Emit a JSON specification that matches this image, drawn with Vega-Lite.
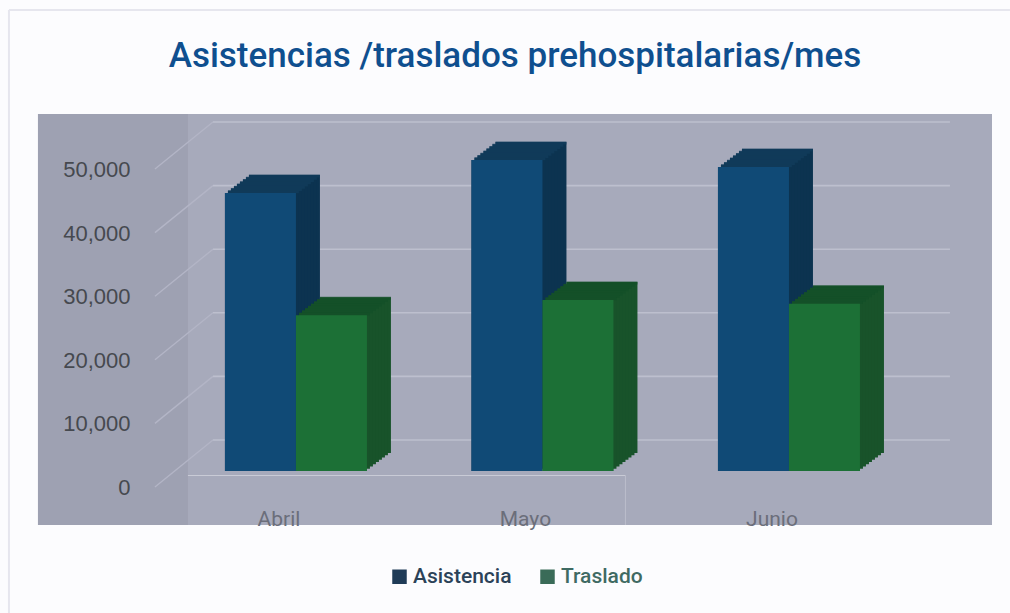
{
"$schema":"https://vega.github.io/schema/vega-lite/v6.json",
"autosize":"none","padding":{"left":38,"top":114,"right":18,"bottom":88},
"width":954,"height":411,"background":"#fcfcfe",
"view":{"fill":"#a7aabb","stroke":null},
"title":{"text":"Asistencias /traslados prehospitalarias/mes","font":"Roboto","fontSize":35,"fontWeight":500,"color":"#0f4f8f","anchor":"middle","frame":"group","offset":-65},
"datasets":{
"bars":[
{"month":"Abril","serie":"Asistencia","value":43700},
{"month":"Abril","serie":"Traslado","value":24500},
{"month":"Mayo","serie":"Asistencia","value":48900},
{"month":"Mayo","serie":"Traslado","value":26900},
{"month":"Junio","serie":"Asistencia","value":47800},
{"month":"Junio","serie":"Traslado","value":26300}
],
"grid":[{"v":0},{"v":10000},{"v":20000},{"v":30000},{"v":40000},{"v":50000}],
"panel":[{"from":"Abril","mid":"Mayo","to":"Junio","low":-8491,"high":56132,"floor":-708}]
},
"data":{"name":"bars"},
"encoding":{
"x":{"field":"month","type":"nominal","sort":["Abril","Mayo","Junio"],
"scale":{"type":"band","domain":["Abril","Mayo","Junio"],"paddingInner":0,"paddingOuter":0.435,"align":0.628},
"axis":{"title":null,"domain":false,"ticks":false,"labelAngle":0,"labelFont":"Roboto","labelFontSize":21,"labelColor":"#6b6e7a","labelPadding":-17,"labelOffset":-17,"zindex":1}},
"y":{"field":"value","type":"quantitative","stack":null,
"scale":{"domain":[-8491,56132],"nice":false,"zero":false},
"axis":{"title":null,"values":[0,10000,20000,30000,40000,50000],"format":",.0f","domain":false,"ticks":false,"grid":false,"labelFont":"Liberation Sans","labelFontSize":22,"labelColor":"#46494f","labelOffset":16.5,"offset":-92,"labelPadding":0,"zindex":1}}
},
"layer":[
{"mark":{"type":"rect","color":"#9ea1b2","xOffset":-258,"x2Offset":-108},"data":{"name":"panel"},"encoding":{"x":{"field":"from","type":"nominal"},"x2":{"field":"from"},"y":{"field":"low","type":"quantitative"},"y2":{"field":"high"}}},
{"mark":{"type":"rule","color":"#e6e6ee","strokeWidth":2,"xOffset":-287,"yOffset":88,"y2Offset":-104},"data":{"name":"panel"},"encoding":{"x":{"field":"from","type":"nominal"},"y":{"field":"low","type":"quantitative"},"y2":{"field":"high"}}},
{"mark":{"type":"rule","color":"#e6e6ee","strokeWidth":2,"xOffset":-287,"x2Offset":221,"yOffset":-104},"data":{"name":"panel"},"encoding":{"x":{"field":"from","type":"nominal"},"x2":{"field":"to"},"y":{"field":"high","type":"quantitative"}}},
{"mark":{"type":"rule","color":"#bdbfce","strokeWidth":1.6,"xOffset":-83,"x2Offset":161,"yOffset":-31},"data":{"name":"grid"},"encoding":{"x":{"datum":"Abril"},"x2":{"datum":"Junio"},"y":{"field":"v","type":"quantitative"}}},
{"mark":{"type":"rule","color":"#b3b5c6","strokeWidth":1.4,"xOffset":-141,"x2Offset":-83,"yOffset":16,"y2Offset":-31},"data":{"name":"grid"},"encoding":{"x":{"datum":"Abril"},"x2":{"datum":"Abril"},"y":{"field":"v","type":"quantitative"},"y2":{"field":"v"}}},
{"mark":{"type":"rule","color":"#c9cbd6","strokeWidth":1.2,"xOffset":-108,"x2Offset":83},"data":{"name":"panel"},"encoding":{"x":{"field":"from","type":"nominal"},"x2":{"field":"mid"},"y":{"field":"floor","type":"quantitative"}}},
{"mark":{"type":"rule","color":"#bcbecb","strokeWidth":1,"xOffset":83},"data":{"name":"panel"},"encoding":{"x":{"field":"mid","type":"nominal"},"y":{"field":"floor","type":"quantitative"},"y2":{"field":"low"}}},

{"mark":{"type":"bar","width":71,"xOffset":{"expr":"datum.serie=='Asistencia'?-35.5:35.5"}},"encoding":{"y2":{"datum":0},"color":{"field":"serie","type":"nominal","scale":{"domain":["Asistencia","Traslado"],"range":["#1f3b57","#3a6b58"]},"legend":{"title":null,"orient":"none","legendX":351,"legendY":452,"direction":"horizontal","columns":2,"symbolType":"square","symbolSize":210,"symbolOpacity":1,"labelFont":"Roboto","labelFontSize":21,"labelFontWeight":500,"labelLimit":200,"labelOffset":3,"columnPadding":25,"encode":{"labels":{"update":{"fill":{"signal":"datum.value=='Traslado'?'#3f6a63':'#2b4258'"}}}}}}}},

{"mark":{"type":"bar","width":71,"xOffset":{"expr":"(datum.serie=='Asistencia'?-35.5:35.5)+24"},"yOffset":-18,"y2Offset":-18},"encoding":{"y2":{"datum":0},"color":{"condition":{"test":"datum.serie=='Asistencia'","value":"#0c3350"},"value":"#18532a"}}},
{"mark":{"type":"tick","orient":"horizontal","size":71,"thickness":3,"xOffset":{"expr":"(datum.serie=='Asistencia'?-35.5:35.5)+24"},"yOffset":-17},"encoding":{"color":{"condition":{"test":"datum.serie=='Asistencia'","value":"#123d5c"},"value":"#125028"}}},
{"mark":{"type":"bar","width":71,"xOffset":{"expr":"(datum.serie=='Asistencia'?-35.5:35.5)+21"},"yOffset":-15.75,"y2Offset":-15.75},"encoding":{"y2":{"datum":0},"color":{"condition":{"test":"datum.serie=='Asistencia'","value":"#0c3350"},"value":"#18532a"}}},
{"mark":{"type":"tick","orient":"horizontal","size":71,"thickness":3,"xOffset":{"expr":"(datum.serie=='Asistencia'?-35.5:35.5)+21"},"yOffset":-14.75},"encoding":{"color":{"condition":{"test":"datum.serie=='Asistencia'","value":"#123d5c"},"value":"#125028"}}},
{"mark":{"type":"bar","width":71,"xOffset":{"expr":"(datum.serie=='Asistencia'?-35.5:35.5)+18"},"yOffset":-13.5,"y2Offset":-13.5},"encoding":{"y2":{"datum":0},"color":{"condition":{"test":"datum.serie=='Asistencia'","value":"#0c3350"},"value":"#18532a"}}},
{"mark":{"type":"tick","orient":"horizontal","size":71,"thickness":3,"xOffset":{"expr":"(datum.serie=='Asistencia'?-35.5:35.5)+18"},"yOffset":-12.5},"encoding":{"color":{"condition":{"test":"datum.serie=='Asistencia'","value":"#123d5c"},"value":"#125028"}}},
{"mark":{"type":"bar","width":71,"xOffset":{"expr":"(datum.serie=='Asistencia'?-35.5:35.5)+15"},"yOffset":-11.25,"y2Offset":-11.25},"encoding":{"y2":{"datum":0},"color":{"condition":{"test":"datum.serie=='Asistencia'","value":"#0c3350"},"value":"#18532a"}}},
{"mark":{"type":"tick","orient":"horizontal","size":71,"thickness":3,"xOffset":{"expr":"(datum.serie=='Asistencia'?-35.5:35.5)+15"},"yOffset":-10.25},"encoding":{"color":{"condition":{"test":"datum.serie=='Asistencia'","value":"#123d5c"},"value":"#125028"}}},
{"mark":{"type":"bar","width":71,"xOffset":{"expr":"(datum.serie=='Asistencia'?-35.5:35.5)+12"},"yOffset":-9,"y2Offset":-9},"encoding":{"y2":{"datum":0},"color":{"condition":{"test":"datum.serie=='Asistencia'","value":"#0c3350"},"value":"#18532a"}}},
{"mark":{"type":"tick","orient":"horizontal","size":71,"thickness":3,"xOffset":{"expr":"(datum.serie=='Asistencia'?-35.5:35.5)+12"},"yOffset":-8},"encoding":{"color":{"condition":{"test":"datum.serie=='Asistencia'","value":"#123d5c"},"value":"#125028"}}},
{"mark":{"type":"bar","width":71,"xOffset":{"expr":"(datum.serie=='Asistencia'?-35.5:35.5)+9"},"yOffset":-6.75,"y2Offset":-6.75},"encoding":{"y2":{"datum":0},"color":{"condition":{"test":"datum.serie=='Asistencia'","value":"#0c3350"},"value":"#18532a"}}},
{"mark":{"type":"tick","orient":"horizontal","size":71,"thickness":3,"xOffset":{"expr":"(datum.serie=='Asistencia'?-35.5:35.5)+9"},"yOffset":-5.75},"encoding":{"color":{"condition":{"test":"datum.serie=='Asistencia'","value":"#123d5c"},"value":"#125028"}}},
{"mark":{"type":"bar","width":71,"xOffset":{"expr":"(datum.serie=='Asistencia'?-35.5:35.5)+6"},"yOffset":-4.5,"y2Offset":-4.5},"encoding":{"y2":{"datum":0},"color":{"condition":{"test":"datum.serie=='Asistencia'","value":"#0c3350"},"value":"#18532a"}}},
{"mark":{"type":"tick","orient":"horizontal","size":71,"thickness":3,"xOffset":{"expr":"(datum.serie=='Asistencia'?-35.5:35.5)+6"},"yOffset":-3.5},"encoding":{"color":{"condition":{"test":"datum.serie=='Asistencia'","value":"#123d5c"},"value":"#125028"}}},
{"mark":{"type":"bar","width":71,"xOffset":{"expr":"(datum.serie=='Asistencia'?-35.5:35.5)+3"},"yOffset":-2.25,"y2Offset":-2.25},"encoding":{"y2":{"datum":0},"color":{"condition":{"test":"datum.serie=='Asistencia'","value":"#0c3350"},"value":"#18532a"}}},
{"mark":{"type":"tick","orient":"horizontal","size":71,"thickness":3,"xOffset":{"expr":"(datum.serie=='Asistencia'?-35.5:35.5)+3"},"yOffset":-1.25},"encoding":{"color":{"condition":{"test":"datum.serie=='Asistencia'","value":"#123d5c"},"value":"#125028"}}},

{"mark":{"type":"bar","width":71,"xOffset":{"expr":"datum.serie=='Asistencia'?-35.5:35.5"}},"encoding":{"y2":{"datum":0},"color":{"condition":{"test":"datum.serie=='Asistencia'","value":"#104a76"},"value":"#1c7036"}}}
]
}
